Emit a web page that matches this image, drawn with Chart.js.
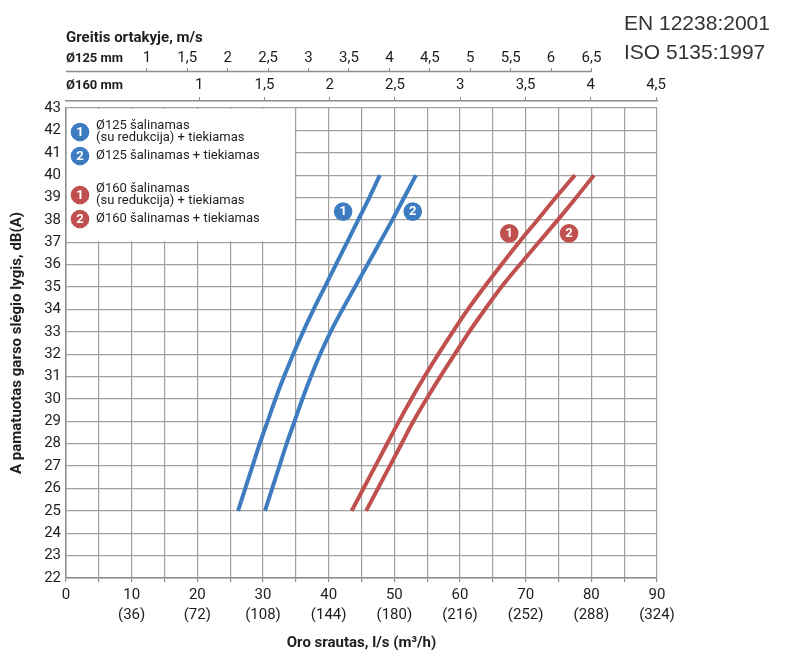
<!DOCTYPE html>
<html>
<head>
<meta charset="utf-8">
<script src="https://cdn.jsdelivr.net/npm/chart.js@4.4.1/dist/chart.umd.min.js"></script>
<style>
html,body{margin:0;padding:0;background:#fff;}
#wrap{position:relative;width:790px;height:657px;}
</style>
</head>
<body>
<div id="wrap"><canvas id="c" width="790" height="657"></canvas></div>
<script>
// ---- data ----
const dbLevels   = [25,26,27,28,29,30,31,32,33,34,35,36,37,38,39,40];
const q125Red    = [26.2,27.3,28.4,29.5,30.7,31.9,33.2,34.6,36.1,37.7,39.4,41.1,42.8,44.5,46.2,47.8];
const q125Full   = [30.3,31.4,32.5,33.6,34.8,36.0,37.3,38.7,40.3,42.1,44.0,45.9,47.8,49.7,51.5,53.3];
const q160Red    = [43.5,45.3,47.1,48.9,50.7,52.6,54.6,56.7,58.9,61.2,63.7,66.3,69.0,71.8,74.6,77.5];
const q160Full   = [45.7,47.5,49.3,51.1,52.9,54.9,57.0,59.2,61.4,63.8,66.3,69.1,72.0,74.9,77.7,80.4];

const seriesNumbers = ['1','2','1','2'];
const seriesLabels = [
  ['Ø125 šalinamas','(su redukcija) + tiekiamas'],
  ['Ø125 šalinamas + tiekiamas'],
  ['Ø160 šalinamas','(su redukcija) + tiekiamas'],
  ['Ø160 šalinamas + tiekiamas']
];
const badgeFlow = [42.2, 52.8, 67.5, 76.6];
const badgeDb   = [38.37, 38.37, 37.4, 37.4];

const flowTicks = [0,10,20,30,40,50,60,70,80,90];
const m3hTicks  = ['', '(36)','(72)','(108)','(144)','(180)','(216)','(252)','(288)','(324)'];
const v125Ticks = [1,1.5,2,2.5,3,3.5,4,4.5,5,5.5,6,6.5];
const v160Ticks = [1,1.5,2,2.5,3,3.5,4,4.5];
const v125Range = [0, 7.31];
const v160Range = [-0.02, 4.507];

const legendFlowRange = [0, 35];
const legendDbRange = [37, 43];

// ---- style ----
const BLUE = '#3d7cc0';
const RED  = '#c0504d';
const GRID = '#a0a0a0';
const AXIS = '#8c8c8c';
const TXT  = '#1e1e1e';
const FAM  = 'Roboto';

function toPts(flow){ return flow.map((q,i)=>({x:q, y:dbLevels[i]})); }
function comma(v){ return String(v).replace('.', ','); }

function topTicks(list, range, label){
  return {
    afterBuildTicks(scale){
      const t = [{value:range[0]}];
      list.forEach(v=>t.push({value:v}));
      t.push({value:range[1]});
      scale.ticks = t;
    },
    callback(v, i, ticks){
      if (i === 0) return label;
      if (i === ticks.length-1) return '';
      return comma(v);
    }
  };
}

const t125 = topTicks(v125Ticks, v125Range, 'Ø125 mm');
const t160 = topTicks(v160Ticks, v160Range, 'Ø160 mm');

function tickFont(ctx){
  return ctx.index === 0 ? {family:FAM, size:13, weight:'bold'} : {family:FAM, size:15};
}
function tickMarkColor(ctx){
  const n = ctx.scale.ticks.length;
  return (ctx.index === 0 || ctx.index === n-1) ? 'rgba(0,0,0,0)' : AXIS;
}

function badge(ctx, x, y, color, txt){
  ctx.beginPath();
  ctx.arc(x, y, 9.3, 0, Math.PI*2);
  ctx.fillStyle = color;
  ctx.fill();
  ctx.fillStyle = '#fff';
  ctx.font = 'bold 13px ' + FAM;
  ctx.textAlign = 'center';
  ctx.textBaseline = 'middle';
  ctx.fillText(txt, x, y + 0.5);
}

const overlay = {
  id: 'overlay',
  beforeDatasetsDraw(chart){
    const {ctx} = chart;
    const xs = chart.scales.x, ys = chart.scales.y;
    const l = xs.getPixelForValue(legendFlowRange[0]) + 1;
    const r = xs.getPixelForValue(legendFlowRange[1]) - 1;
    const t = ys.getPixelForValue(legendDbRange[1]) + 1;
    const b = ys.getPixelForValue(legendDbRange[0]) - 1;
    ctx.save();
    ctx.fillStyle = '#fff';
    ctx.fillRect(l, t, r - l, b - t);
    const colors = [BLUE, BLUE, RED, RED];
    const tops = [18, 48, 81, 111];
    const bx = l + 13, tx = l + 29;
    seriesLabels.forEach((lines, k)=>{
      const y0 = t - 1 + tops[k];
      const cy = y0 + (lines.length - 1) * 12 / 2;
      badge(ctx, bx, cy, colors[k], seriesNumbers[k]);
      ctx.fillStyle = TXT;
      ctx.font = '13px ' + FAM;
      ctx.textAlign = 'left';
      ctx.textBaseline = 'middle';
      lines.forEach((s, j)=> ctx.fillText(s, tx, y0 + j*12));
    });
    ctx.restore();
  },
  afterDatasetsDraw(chart){
    const {ctx} = chart;
    const xs = chart.scales.x, ys = chart.scales.y;
    const colors = [BLUE, BLUE, RED, RED];
    ctx.save();
    badgeFlow.forEach((q,k)=>{
      badge(ctx, xs.getPixelForValue(q), ys.getPixelForValue(badgeDb[k]), colors[k], seriesNumbers[k]);
    });
    ctx.restore();
  },
  afterDraw(chart){
    const {ctx} = chart;
    const s = chart.scales.x125;
    ctx.save();
    ctx.strokeStyle = AXIS;
    ctx.lineWidth = 1.5;
    ctx.beginPath();
    const yb = Math.round(s.bottom) - 0.5;
    ctx.moveTo(s.left, yb);
    ctx.lineTo(s.getPixelForValue(v125Ticks[v125Ticks.length-1]), yb);
    ctx.stroke();
    ctx.fillStyle = '#333';
    ctx.font = '21px "Liberation Sans", Arial, sans-serif';
    ctx.textAlign = 'left';
    ctx.textBaseline = 'alphabetic';
    ctx.fillText('EN 12238:2001', 624, 30);
    ctx.fillText('ISO 5135:1997', 624, 58.5);
    ctx.restore();
  }
};

Chart.defaults.font.family = FAM;
Chart.defaults.color = TXT;

const mkSet = (data, color) => ({
  data: toPts(data), borderColor: color, backgroundColor: color,
  borderWidth: 4, pointRadius: 0, showLine: true, fill: false,
  cubicInterpolationMode: 'monotone', borderCapStyle: 'butt', xAxisID: 'x', yAxisID: 'y'
});

new Chart(document.getElementById('c'), {
  type: 'scatter',
  data: {
    datasets: [
      mkSet(q125Red, BLUE),
      mkSet(q125Full, BLUE),
      mkSet(q160Red, RED),
      mkSet(q160Full, RED)
    ]
  },
  options: {
    responsive: false,
    animation: false,
    layout: { padding: { left: 0, top: 0, right: 133, bottom: 0 } },
    plugins: { legend: {display:false}, tooltip: {enabled:false} },
    scales: {
      x: {
        type: 'linear', position: 'bottom', min: 0, max: 90,
        afterFit(s){ s.height = 79; },
        grid: { color: GRID, lineWidth: 1.2, tickLength: 4, tickColor: AXIS },
        border: { color: AXIS, width: 1.5 },
        ticks: {
          stepSize: 5, autoSkip: false, maxRotation: 0, padding: 3,
          font: { size: 15, lineHeight: 1.35 },
          callback(v){
            const i = flowTicks.indexOf(v);
            if (i < 0) return '';
            return m3hTicks[i] ? [String(v), m3hTicks[i]] : String(v);
          }
        },
        title: { display: true, text: 'Oro srautas, l/s (m³/h)', font: {size: 15, weight: 'bold'}, padding: {top: 0, bottom: 5} }
      },
      y: {
        type: 'linear', position: 'left', min: 22, max: 43,
        afterFit(s){ s.width = 66; },
        grid: { color: GRID, lineWidth: 1.2, drawTicks: false },
        border: { color: AXIS, width: 1.5 },
        ticks: { stepSize: 1, autoSkip: false, padding: 5, font: { size: 15 } },
        title: { display: true, text: 'A pamatuotas garso slėgio lygis, dB(A)', font: {size: 15, weight: 'bold'}, padding: {top: 8, bottom: 0} }
      },
      gap: {
        type: 'linear', position: 'top', min: 0, max: 1, weight: 0,
        afterFit(s){ s.height = 7; },
        grid: { display: false }, border: { display: false }, ticks: { display: false }
      },
      x160: {
        type: 'linear', position: 'top', min: v160Range[0], max: v160Range[1], weight: 1,
        afterFit(s){ s.height = 29; },
        afterBuildTicks: t160.afterBuildTicks,
        grid: { drawOnChartArea: false, tickLength: 4, tickColor: tickMarkColor },
        border: { color: AXIS, width: 1.5 },
        ticks: { autoSkip: false, maxRotation: 0, align: 'inner', padding: 3, font: tickFont, callback: t160.callback }
      },
      x125: {
        type: 'linear', position: 'top', min: v125Range[0], max: v125Range[1], weight: 2,
        afterFit(s){ s.height = 72; },
        afterBuildTicks: t125.afterBuildTicks,
        grid: { drawOnChartArea: false, tickLength: 4, tickColor: tickMarkColor },
        border: { display: false },
        ticks: { autoSkip: false, maxRotation: 0, align: 'inner', padding: 1, font: tickFont, callback: t125.callback },
        title: { display: true, text: 'Greitis ortakyje, m/s', align: 'start', font: {size: 15, weight: 'bold'}, padding: {top: 29.5, bottom: 0} }
      }
    }
  },
  plugins: [overlay]
});
</script>
</body>
</html>
